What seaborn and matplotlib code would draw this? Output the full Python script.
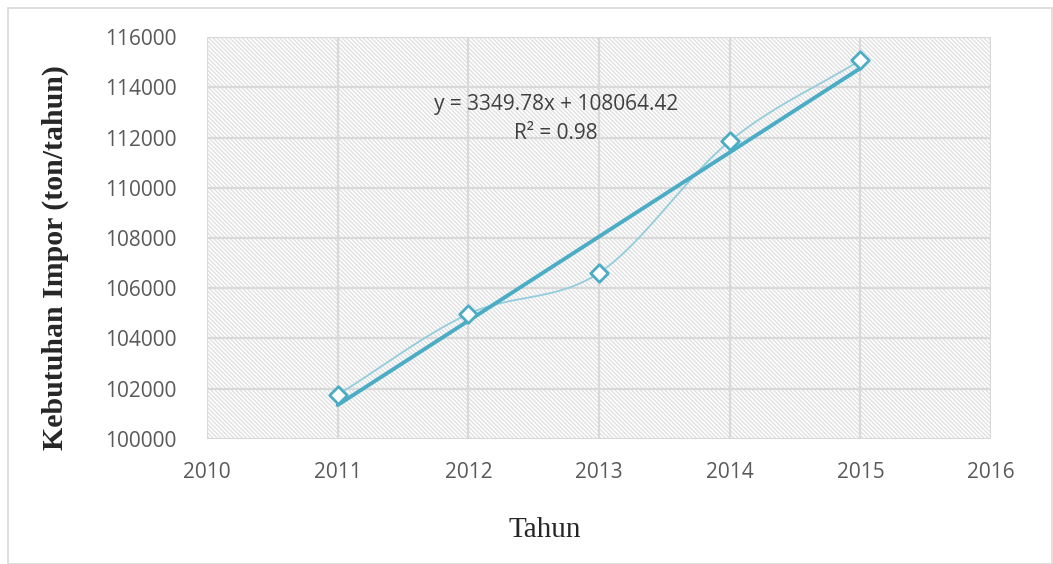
import numpy as np
import pandas as pd
import matplotlib
matplotlib.use("Agg")
import matplotlib.pyplot as plt
import seaborn as sns
from matplotlib.patches import Rectangle

# ---- data ----
years = [2011, 2012, 2013, 2014, 2015]
imports = [101750, 104975, 106610, 111860, 115085]
xticks = [2010, 2011, 2012, 2013, 2014, 2015, 2016]
yticks = [100000, 102000, 104000, 106000, 108000, 110000, 112000, 114000, 116000]
eq_text = "y = 3349.78x + 108064.42"
r2_text = "R² = 0.98"
xlabel = "Tahun"
ylabel = "Kebutuhan Impor (ton/tahun)"

df = pd.DataFrame({"Tahun": years, "Impor": imports})

sns.set_theme(style="white")
plt.rcParams["font.family"] = ["Open Sans", "DejaVu Sans"]
plt.rcParams["hatch.linewidth"] = 0.9

fig = plt.figure(figsize=(10.53, 5.64), dpi=100)
ax = fig.add_axes([0.1966, 0.222, 0.7446, 0.712])

# hatched plot area
ax.patch.set_facecolor("white")
ax.patch.set_edgecolor("#dedede")
ax.patch.set_hatch("\\" * 8)
ax.patch.set_linewidth(0)

main = "#4bacc6"
light = "#93cddd"

# smooth (Catmull-Rom) connecting curve for display
def catmull(xs, ys, n=40):
    xs = np.asarray(xs, float); ys = np.asarray(ys, float)
    px = np.concatenate([[2 * xs[0] - xs[1]], xs, [2 * xs[-1] - xs[-2]]])
    py = np.concatenate([[2 * ys[0] - ys[1]], ys, [2 * ys[-1] - ys[-2]]])
    ox, oy = [], []
    t = np.linspace(0, 1, n)
    for i in range(1, len(px) - 2):
        for p, o in ((px, ox), (py, oy)):
            p0, p1, p2, p3 = p[i - 1], p[i], p[i + 1], p[i + 2]
            o.extend(0.5 * (2 * p1 + (-p0 + p2) * t + (2 * p0 - 5 * p1 + 4 * p2 - p3) * t ** 2
                            + (-p0 + 3 * p1 - 3 * p2 + p3) * t ** 3))
    return np.array(ox), np.array(oy)

sx, sy = catmull(years, imports)
ax.plot(sx, sy, color=light, lw=1.3, zorder=3)

# linear trend
sns.regplot(data=df, x="Tahun", y="Impor", ax=ax, scatter=False, ci=None,
            line_kws=dict(color=main, lw=2.8, zorder=4))

# markers
sns.scatterplot(data=df, x="Tahun", y="Impor", ax=ax, marker="D", s=80,
                facecolor="white", edgecolor=main, linewidth=2, zorder=5)

ax.set_xlim(2010, 2016)
ax.set_ylim(100000, 116000)
ax.set_xticks(xticks)
ax.set_yticks(yticks)
ax.set_xticklabels([str(v) for v in xticks])
ax.set_yticklabels([str(v) for v in yticks])
ax.grid(True, color="#d9d9d9", lw=1.6, zorder=1)
ax.set_axisbelow(True)
for s in ax.spines.values():
    s.set_visible(False)
ax.tick_params(axis="both", length=0, labelsize=15, colors="#595959")
ax.tick_params(axis="x", pad=17)
ax.tick_params(axis="y", pad=22)
ax.set_xlabel("")
ax.set_ylabel("")

ax.text(2012.67, 113300, eq_text, ha="center", va="center", fontsize=15, color="#404040", zorder=6)
ax.text(2012.67, 112150, r2_text, ha="center", va="center", fontsize=15, color="#404040", zorder=6)

fig.text(545 / 1053, 1 - 530 / 564, xlabel, ha="center", va="center",
         fontsize=21, family="Liberation Serif")
fig.text(55 / 1053, 1 - 258 / 564, ylabel, ha="center", va="center", rotation=90,
         fontsize=21.5, fontweight="bold", family="Liberation Serif")

fig.patches.append(Rectangle((8 / 1053, 0), 1 - 8 / 1053 - 0.001, 1 - 8 / 564, transform=fig.transFigure,
                             fill=False, edgecolor="#d9d9d9", lw=1.2))

fig.savefig("out.png", dpi=100)
